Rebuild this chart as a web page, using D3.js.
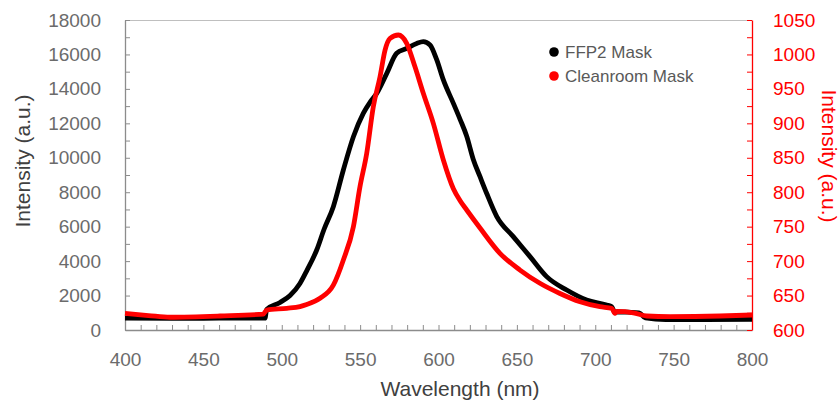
<!DOCTYPE html>
<html>
<head>
<meta charset="utf-8">
<script src="https://cdn.jsdelivr.net/npm/d3@7"></script>
<style>
  body { margin: 0; background: #fff; }
  svg text { font-family: "Liberation Sans", Arial, sans-serif; }
</style>
</head>
<body>
<svg id="chart" width="840" height="400"></svg>
<script>
// wavelength (nm) / intensity pairs
const ffp2Nm  = [400, 430, 460, 489.3, 490.4, 498.9, 505.3, 511.6, 516, 522.3, 527, 532.9, 539.3, 545.7, 552.0, 556.5, 560.6, 567.0, 573.3, 579.7, 586.1, 590.3, 594.6, 598.9, 603.1, 609.5, 613.7, 618.0, 622.2, 626.5, 630.7, 637.1, 647.7, 658.4, 669.0, 681.8, 694.5, 707.3, 710.5, 712.6, 713.6, 728, 732, 745, 770, 800];
const ffp2Val = [690, 680, 685, 690, 1200, 1600, 2000, 2700, 3450, 4645, 5850, 7160, 9290, 11220, 12580, 13250, 13740, 14900, 16070, 16350, 16640, 16740, 16550, 15680, 14520, 13160, 12250, 11250, 9900, 8900, 7940, 6600, 5420, 4260, 3100, 2320, 1740, 1450, 1350, 1000, 1050, 1000, 700, 600, 610, 620];

const cleanNm  = [400, 415, 428.7, 460.6, 488.2, 490.4, 503.2, 511.6, 515.9, 524.4, 532.9, 539.3, 545.7, 549.9, 554.2, 558.4, 562.7, 565.9, 569.1, 574.4, 579.7, 585.0, 590.3, 596.7, 603.1, 609.5, 613.7, 618.0, 626.5, 639.2, 652.0, 664.7, 677.5, 690.3, 703.0, 710.5, 712.6, 713.6, 724.3, 732.8, 747.7, 779.6, 800];
const cleanVal = [624, 621, 618.5, 620.3, 623.2, 629, 631.5, 634, 637, 646, 665, 701.6, 750, 808, 856.5, 924, 967.7, 1006.4, 1023.4, 1028.2, 1016.2, 982, 943.6, 900, 846.8, 805, 788, 774.2, 748, 711.3, 687, 667.8, 653, 641, 633.8, 631.5, 624.2, 627, 625, 620.3, 619.4, 620.3, 621.8];

const xTicks = d3.range(400, 801, 10);
const xLabels = [400, 450, 500, 550, 600, 650, 700, 750, 800];
const leftTicks = d3.range(0, 18001, 1000);
const rightTicks = d3.range(600, 1051, 25);
const legendNames = ['FFP2 Mask', 'Cleanroom Mask'];
const legendColors = ['#000000', '#ff0000'];

const plotL = 125, plotR = 752, plotT = 20, plotB = 330;
const labelGrey = '#6b6b6b', axisGrey = '#8c8c8c';

const x = d3.scaleLinear().domain([400, 800]).range([plotL, plotR]);
const yL = d3.scaleLinear().domain([0, 18000]).range([plotB, plotT]);
const yR = d3.scaleLinear().domain([600, 1050]).range([plotB, plotT]);

const svg = d3.select('#chart');

// frame top
svg.append('line')
  .attr('x1', plotL).attr('x2', plotR).attr('y1', plotT + 0.5).attr('y2', plotT + 0.5)
  .attr('stroke', '#bfbfbf').attr('stroke-width', 1);

function styleAxis(g, color, textColor) {
  g.select('.domain').attr('stroke', color).attr('stroke-width', 1.3);
  g.selectAll('.tick line').attr('stroke', color).attr('stroke-width', 1);
  g.selectAll('.tick text').attr('fill', textColor).style('font-size', '19px');
}

const xAxis = svg.append('g')
  .attr('transform', `translate(0,${plotB})`)
  .call(d3.axisBottom(x).tickValues(xTicks).tickSizeInner(-5).tickSizeOuter(0).tickPadding(23)
    .tickFormat(d => xLabels.includes(d) ? d : ''));
styleAxis(xAxis, axisGrey, labelGrey);

const lAxis = svg.append('g')
  .attr('transform', `translate(${plotL},0)`)
  .call(d3.axisLeft(yL).tickValues(leftTicks).tickSizeInner(-5).tickSizeOuter(0).tickPadding(24)
    .tickFormat(d => d % 2000 === 0 ? d : ''));
styleAxis(lAxis, axisGrey, labelGrey);

const rAxis = svg.append('g')
  .attr('transform', `translate(${plotR},0)`)
  .call(d3.axisRight(yR).tickValues(rightTicks).tickSizeInner(-5).tickSizeOuter(0).tickPadding(21)
    .tickFormat(d => d % 50 === 0 ? d : ''));
styleAxis(rAxis, '#ff0000', '#ff0000');

// series
const lineL = d3.line().x(d => x(d[0])).y(d => yL(d[1])).curve(d3.curveMonotoneX);
const lineR = d3.line().x(d => x(d[0])).y(d => yR(d[1])).curve(d3.curveMonotoneX);

svg.append('path')
  .datum(d3.zip(ffp2Nm, ffp2Val))
  .attr('d', lineL)
  .attr('fill', 'none').attr('stroke', '#000').attr('stroke-width', 4.8)
  .attr('stroke-linejoin', 'round');

svg.append('path')
  .datum(d3.zip(cleanNm, cleanVal))
  .attr('d', lineR)
  .attr('fill', 'none').attr('stroke', '#ff0000').attr('stroke-width', 4.8)
  .attr('stroke-linejoin', 'round');

// axis titles
svg.append('text')
  .attr('transform', 'translate(30,161) rotate(-90)')
  .attr('text-anchor', 'middle')
  .attr('fill', '#404040').style('font-size', '21px')
  .text('Intensity (a.u.)');

svg.append('text')
  .attr('transform', 'translate(822,156) rotate(90)')
  .attr('text-anchor', 'middle')
  .attr('fill', '#ff0000').style('font-size', '21px')
  .text('Intensity (a.u.)');

svg.append('text')
  .attr('x', 460).attr('y', 396)
  .attr('text-anchor', 'middle')
  .attr('fill', '#404040').style('font-size', '21px')
  .text('Wavelength (nm)');

// legend
const legend = svg.append('g').attr('transform', 'translate(554,52)');
legendNames.forEach((name, i) => {
  const row = legend.append('g').attr('transform', `translate(0,${i * 24})`);
  row.append('circle').attr('r', 4.8).attr('fill', legendColors[i]);
  row.append('text').attr('x', 11).attr('dy', '0.35em')
    .attr('fill', '#595959').style('font-size', '17px')
    .text(name);
});
</script>
</body>
</html>
